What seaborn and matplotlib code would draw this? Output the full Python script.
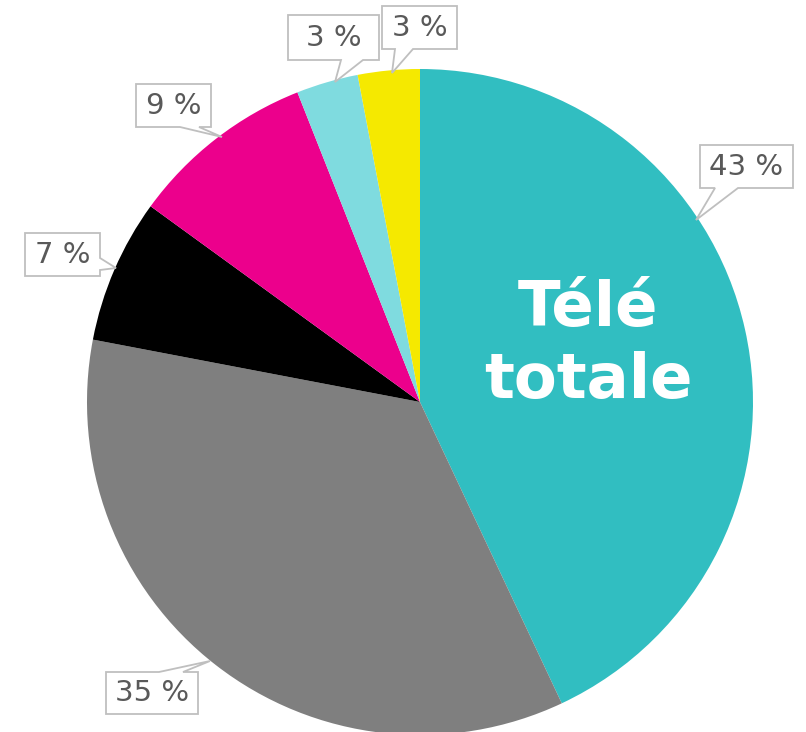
import matplotlib
matplotlib.use("Agg")
import matplotlib.pyplot as plt
from matplotlib.patches import Polygon
import seaborn as sns

# slice values in %, clockwise from 12 o'clock
shares = [43, 35, 7, 9, 3, 3]
labels = ["43 %", "35 %", "7 %", "9 %", "3 %", "3 %"]
colors = ["#31BEC1", "#7F7F7F", "#000000", "#EC008C", "#7FDBDF", "#F5E900"]

# callout boxes in image pixels (x0, y0, x1, y1), y going down
boxes = [(700, 145, 793, 188), (106, 672, 198, 714), (25, 233, 100, 276),
         (136, 84, 211, 127), (288, 15, 379, 60), (382, 6, 457, 49)]
# which side the pointer leaves from, the base span on that side, and the tip
sides = ["bottom", "top", "right", "bottom", "bottom", "bottom"]
bases = [(715, 738), (159, 183), (258, 270), (180, 199), (341, 363), (395, 413)]
tips = [(696, 220), (210, 661), (116, 268), (222, 137), (335, 82), (392, 73)]

# pie centre at pixel (420, 402), radius 333 px
CX, CY, R = 420, 402, 333
W, H = 806, 732


def px(x, y):
    return ((x - CX) / R, (CY - y) / R)


sns.set_theme(style="white")
plt.rcParams["font.family"] = ["DejaVu Sans"]

fig = plt.figure(figsize=(W / 100, H / 100), dpi=100)
ax = fig.add_axes([0, 0, 1, 1])

ax.pie(shares, colors=colors, startangle=90, counterclock=False,
       radius=1, center=(0, 0), wedgeprops=dict(linewidth=0))

for lab, (x0, y0, x1, y1), side, (b1, b2), tip in zip(labels, boxes, sides, bases, tips):
    if side == "bottom":
        pts = [(x0, y0), (x1, y0), (x1, y1), (b2, y1), tip, (b1, y1), (x0, y1)]
    elif side == "top":
        pts = [(x0, y0), (b1, y0), tip, (b2, y0), (x1, y0), (x1, y1), (x0, y1)]
    else:
        pts = [(x0, y0), (x1, y0), (x1, b1), tip, (x1, b2), (x1, y1), (x0, y1)]
    ax.add_patch(Polygon([px(*p) for p in pts], closed=True, fc="white",
                         ec="#BFBFBF", lw=1.3, zorder=3, joinstyle="miter"))
    ax.text(*px((x0 + x1) / 2, (y0 + y1) / 2), lab, ha="center", va="center",
            fontsize=21, color="#595959", zorder=4)

ax.text(0.505, 0.172, "Télé\ntotale", ha="center", va="center",
        fontsize=45, fontweight="bold", color="white", linespacing=1.25)

ax.set_xlim(-CX / R, (W - CX) / R)
ax.set_ylim(-(H - CY) / R, CY / R)
ax.set_aspect("equal")
ax.axis("off")

fig.savefig("out.png", dpi=100)
